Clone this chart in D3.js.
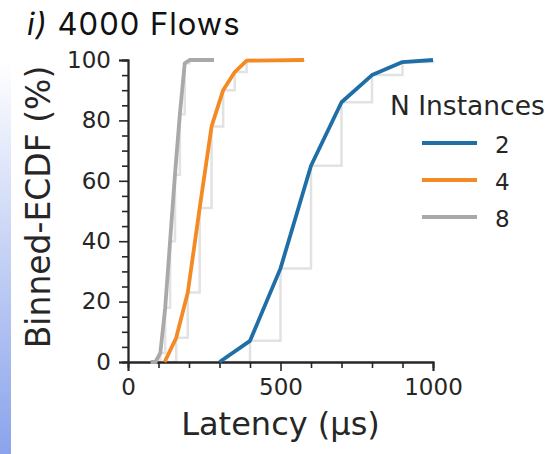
<!DOCTYPE html>
<html>
<head>
<meta charset="utf-8">
<script src="https://cdn.jsdelivr.net/npm/d3@7"></script>
<style>
    body { margin: 0; background: #fff; }
    svg { display: block; }
    text { font-family: "DejaVu Sans", sans-serif; fill: #262626; }
</style>
</head>
<body>
<svg id="chart" width="549" height="454"></svg>
<script>
// binned ECDF knots (latency in µs, ecdf in %)
const instances = ['2', '4', '8'];
const latency2 = [300, 400, 500, 600, 700, 800, 900, 1000];
const ecdf2 = [0, 7, 31, 65, 86, 95, 99.3, 100];
const latency4 = [120, 158, 196, 235, 274, 312, 350, 389, 577];
const ecdf4 = [0, 8, 23, 51, 78, 90, 96, 99.8, 100];
const latency8 = [74, 90, 106, 122, 138, 154, 170, 186, 202, 282];
const ecdf8 = [0, 0, 3, 18, 40, 62, 82, 98.9, 100, 100];
const xMajorTicks = [0, 500, 1000];
const yMajorTicks = [0, 20, 40, 60, 80, 100];

const colours = ['#1f6ea6', '#f48a24', '#a9a9a9'];

function makeSeries(){
    const lat = [latency2, latency4, latency8],
        val = [ecdf2, ecdf4, ecdf8];
    return instances.map((name, i) => ({
        name: name,
        points: lat[i].map((l, j) => ({x: l, y: val[i][j]}))
    }));
}

function drawChart(){
    const svg = d3.select('#chart');
    const x = d3.scaleLinear().domain([0, 1000]).range([128, 433]);
    const y = d3.scaleLinear().domain([0, 100]).range([362, 60]);
    const colour = d3.scaleOrdinal().domain(instances).range(colours);
    const series = makeSeries();

    // faint blue strip down the left edge
    const grad = svg.append('defs')
        .append('linearGradient')
            .attr('id', 'strip')
            .attr('x1', 0).attr('y1', 0).attr('x2', 0).attr('y2', 1);
    grad.append('stop').attr('offset', '0%').attr('stop-color', '#ffffff');
    grad.append('stop').attr('offset', '100%').attr('stop-color', '#8aa3eb');
    svg.append('rect')
        .attr('x', 0).attr('y', 60)
        .attr('width', 11).attr('height', 394)
        .attr('fill', 'url(#strip)');

    svg.append('text')
        .attr('x', 27)
        .attr('y', 35)
        .style('font-family', 'Inter, sans-serif')
        .style('font-size', '31px')
        .style('letter-spacing', '1px')
        .style('fill', '#111')
        .html('<tspan font-style="italic">i)</tspan> 4000 Flows');

    const stepGen = d3.line()
        .x(d => x(d.x))
        .y(d => y(d.y))
        .curve(d3.curveStepAfter);
    const lineGen = d3.line()
        .x(d => x(d.x))
        .y(d => y(d.y));

    svg.append('g')
        .selectAll('path')
            .data(series)
        .enter()
        .append('path')
            .attr('d', d => stepGen(d.points))
            .attr('fill', 'none')
            .attr('stroke', '#e2e2e2')
            .attr('stroke-width', 2.5);

    // axes
    const xMinor = d3.range(0, 1001, 100).filter(v => !xMajorTicks.includes(v));
    const yMinor = d3.range(0, 101, 5).filter(v => !yMajorTicks.includes(v));

    svg.append('g')
        .attr('transform', 'translate(0,362)')
        .call(d3.axisBottom(x).tickValues(xMajorTicks).tickFormat(d3.format('d')).tickSize(9).tickPadding(8));
    svg.append('g')
        .attr('transform', 'translate(0,362)')
        .call(d3.axisBottom(x).tickValues(xMinor).tickSize(6).tickFormat(''));
    svg.append('g')
        .attr('transform', 'translate(128,0)')
        .call(d3.axisLeft(y).tickValues(yMajorTicks).tickSize(9).tickPadding(8));
    svg.append('g')
        .attr('transform', 'translate(128,0)')
        .call(d3.axisLeft(y).tickValues(yMinor).tickSize(6).tickFormat(''));

    svg.selectAll('.domain')
        .attr('stroke', '#262626')
        .attr('stroke-width', 1.8);
    svg.selectAll('.tick line')
        .attr('stroke', '#262626')
        .attr('stroke-width', 1.6);
    svg.selectAll('.tick text')
        .style('font-family', '"DejaVu Sans", sans-serif')
        .style('font-size', '23px')
        .attr('fill', '#333');

    svg.append('g')
        .selectAll('path')
            .data(series)
        .enter()
        .append('path')
            .attr('d', d => lineGen(d.points))
            .attr('fill', 'none')
            .attr('stroke', d => colour(d.name))
            .attr('stroke-width', 3.8)
            .attr('stroke-linejoin', 'round');

    svg.append('text')
        .attr('x', x(500))
        .attr('y', 435)
        .attr('text-anchor', 'middle')
        .style('font-size', '32px')
        .text('Latency (µs)');

    svg.append('text')
        .attr('transform', 'translate(50,' + (y(50) - 4) + ') rotate(-90)')
        .attr('text-anchor', 'middle')
        .style('font-size', '33px')
        .text('Binned-ECDF (%)');

    drawLegend(svg, colour);
}

function drawLegend(svg, colour){
    const legend = svg.append('g');

    legend.append('text')
        .attr('x', 390)
        .attr('y', 115)
        .style('font-size', '26.5px')
        .text('N Instances');

    legend
        .selectAll('.legend__line')
            .data(instances)
        .enter()
        .append('line')
            .classed('legend__line', true)
            .attr('x1', 422)
            .attr('x2', 477)
            .attr('y1', (d, idx) => 143 + idx * 37)
            .attr('y2', (d, idx) => 143 + idx * 37)
            .attr('stroke', d => colour(d))
            .attr('stroke-width', 3.8);

    legend
        .selectAll('.legend__text')
            .data(instances)
        .enter()
        .append('text')
            .classed('legend__text', true)
            .attr('x', 495)
            .attr('y', (d, idx) => 153 + idx * 37)
            .style('font-size', '23px')
            .text(d => d);
}

drawChart();
</script>
</body>
</html>
